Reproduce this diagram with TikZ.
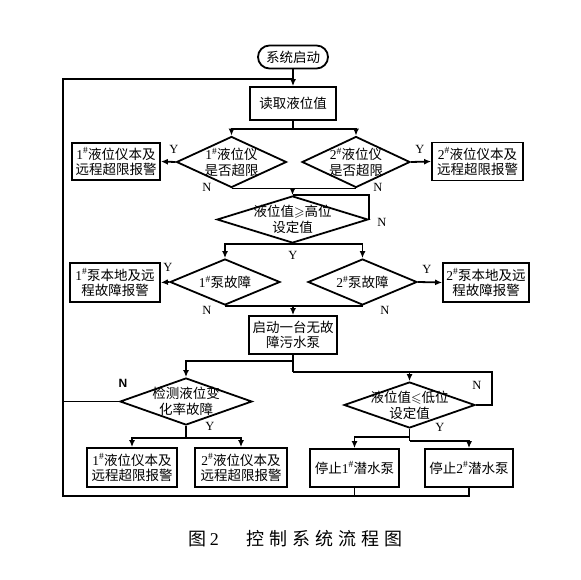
\documentclass[tikz,border=0pt]{standalone}
\usepackage{fontspec}
\usepackage{amssymb}
\setmainfont{Liberation Serif}
\setsansfont{Liberation Sans}
\newfontfamily\cjk{Noto Sans CJK SC}
\newfontfamily\lat{Liberation Serif}
\usetikzlibrary{shapes.geometric,arrows.meta}
\newcommand\pn[1]{{\lat #1\textsuperscript{\#}}}
\newcommand\dtxt[1]{\makebox[0pt]{\raisebox{-5.5pt}[0pt][0pt]{\begin{tabular}{@{}c@{}}#1\end{tabular}}}}
\begin{document}
\begin{tikzpicture}[x=1pt,y=-1pt,line width=1.8pt,
  box/.style={draw,rectangle,inner sep=0pt,align=center,font=\cjk\fontsize{13.5}{15}\selectfont},
  dia/.style={draw,diamond,inner sep=0pt,font=\cjk\fontsize{13.5}{15}\selectfont},
  lab/.style={font=\lat\fontsize{12.5}{12.5}\selectfont,inner sep=0pt},
  arr/.style={-{Latex[length=7pt,width=6pt]}}]
\fill[white] (0,0) rectangle (580,580);
\useasboundingbox (0,0) rectangle (580,580);
% nodes
\node[box,rounded corners=11.5pt,minimum width=70pt,minimum height=23pt] (start) at (293,57) {系统启动};
\node[box,minimum width=86pt,minimum height=33pt] (read) at (293,103.5) {读取液位值};
\node[dia,minimum width=110pt,minimum height=51pt] (d1) at (231.5,162) {\dtxt{\pn{1}液位仪\\是否超限}};
\node[dia,minimum width=108pt,minimum height=51pt] (d2) at (356,162) {\dtxt{\pn{2}液位仪\\是否超限}};
\node[box,minimum width=88pt,minimum height=37pt] (b1l) at (116,161.5) {\pn{1}液位仪本及\\远程超限报警};
\node[box,minimum width=91pt,minimum height=38pt] (b1r) at (477.5,161.5) {\pn{2}液位仪本及\\远程超限报警};
\node[dia,minimum width=151pt,minimum height=47pt] (d3) at (292.5,219.5) {\dtxt{液位值$\geqslant$高位\\设定值}};
\node[dia,minimum width=110pt,minimum height=46pt] (d4) at (225,282) {\dtxt{\pn{1}泵故障}};
\node[dia,minimum width=109pt,minimum height=46pt] (d5) at (362.5,282) {\dtxt{\pn{2}泵故障}};
\node[box,minimum width=90pt,minimum height=39pt] (b2l) at (115,282.5) {\pn{1}泵本地及远\\程故障报警};
\node[box,minimum width=86pt,minimum height=39pt] (b2r) at (486,282.5) {\pn{2}泵本地及远\\程故障报警};
\node[box,minimum width=88pt,minimum height=38pt] (pump) at (293,335) {启动一台无故\\障污水泵};
\node[dia,minimum width=132pt,minimum height=47pt] (d6) at (186,401.5) {\dtxt{检测液位变\\化率故障}};
\node[dia,minimum width=131pt,minimum height=46pt] (d7) at (409.5,405) {\dtxt{液位值$\leqslant$低位\\设定值}};
\node[box,minimum width=90pt,minimum height=39pt] (b3a) at (132,467.5) {\pn{1}液位仪本及\\远程超限报警};
\node[box,minimum width=92pt,minimum height=39pt] (b3b) at (241,467.5) {\pn{2}液位仪本及\\远程超限报警};
\node[box,minimum width=89pt,minimum height=38pt] (b4a) at (354.5,468) {停止\pn{1}潜水泵};
\node[box,minimum width=88pt,minimum height=38pt] (b4b) at (469,468) {停止\pn{2}潜水泵};
% junctions
\coordinate (j1) at (293,129);
\coordinate (j3) at (293,361);
\coordinate (j4) at (293,372);
\coordinate (j5) at (186,438);
\coordinate (j6) at (409.5,437);
\coordinate (j7) at (409.5,441);
\coordinate (lb) at (63,496);
\coordinate (lt) at (63,79);
\coordinate (jt) at (293,79);
% connectors
\draw[arr] (start) -- (read);
\draw (read.south) -- (j1);
\draw[arr] (j1) -| (d1.north);
\draw[arr] (j1) -| (d2.north);
\draw[arr] (d1.west) -- (b1l.east);
\draw[arr] (d2.east) -- (b1r.west);
\draw (d1.south) -- (d2.south);
\draw[arr] (d3.north |- d1.south) -- (d3.north);
\draw (d3.east) |- (d3.north);
\draw[arr] (d3.south) -| (d4.north);
\draw[arr] (d3.south) -| (d5.north);
\draw[arr] (d4.west) -- (b2l.east);
\draw[arr] (d5.east) -- (b2r.west);
\draw (d4.south) -- (d5.south);
\draw[arr] (pump.north |- d4.south) -- (pump.north);
\draw (pump.south) -- (j4);
\draw[arr] (j3) -| (d6.north);
\draw[arr] (j4) -| (d7.north);
\draw (d7.east) -- ++(16,0) |- (j4);
\draw (d6.south) -- (j5);
\draw[arr] (j5) -| (b3a.north);
\draw[arr] (j5) -| (b3b.north);
\draw (d7.south) -- (j7);
\draw[arr] (j6) -| (b4a.north);
\draw[arr] (j7) -| (b4b.north);
\draw (b4a.south) -- (b4a.south |- lb);
\draw (b4b.south) -- (b4b.south |- lb) -- (lb) -- (lt) -- (jt);
\draw (d6.west) -- (d6.west -| lt);
% labels
\node[lab] (y1) at (174,149) {Y};
\node[lab] (y2) at (420,149) {Y};
\node[lab] (n1) at (207,187) {N};
\node[lab] (n2) at (378,187) {N};
\node[lab] (n3) at (382,222) {N};
\node[lab] (y3) at (293,255) {Y};
\node[lab] (y4) at (168,267) {Y};
\node[lab] (y5) at (427,269) {Y};
\node[lab] (n4) at (207,310) {N};
\node[lab] (n5) at (385,310) {N};
\node[lab,font=\sffamily\bfseries\fontsize{12}{12}\selectfont] (n6) at (123,383) {N};
\node[lab] (y6) at (210,426) {Y};
\node[lab] (n7) at (477,385) {N};
\node[lab] (y7) at (440,427) {Y};
% caption
\node[anchor=west,inner sep=0pt] (cap) at (188,539) {\cjk\fontsize{18}{18}\selectfont 图\hspace{3pt}{\lat 2}\hspace{28pt}控\hspace{5pt}制\hspace{5pt}系\hspace{5pt}统\hspace{5pt}流\hspace{5pt}程\hspace{5pt}图};
\end{tikzpicture}
\end{document}
